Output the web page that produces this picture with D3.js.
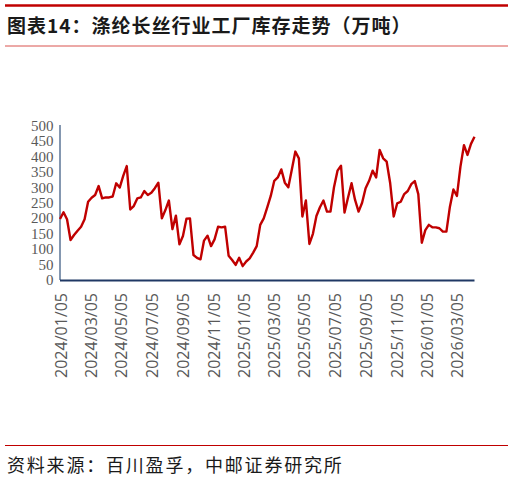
<!DOCTYPE html>
<html><head><meta charset="utf-8">
<script src="https://cdn.jsdelivr.net/npm/d3@7"></script>
<style>body{margin:0;background:#fff}svg{display:block}</style>
</head><body>
<svg id="c" width="513" height="481"></svg>
<script>
const startDate = "2024/01/05";
const endDate = "2026/04/10";
const values = [198,220,197,130,146,160,173,197,254,267,276,305,265,268,268,271,314,300,338,370,
229,240,265,268,289,276,283,298,316,200,227,258,165,209,116,143,199,200,81,72,
67,128,144,110,132,173,171,173,79,65,49,72,45,60,70,89,110,179,200,236,
273,322,333,359,316,301,359,417,395,206,258,117,150,208,236,258,222,222,301,355,
371,219,268,314,260,222,251,298,322,355,333,422,395,384,314,206,249,254,279,289,
311,321,279,121,162,179,171,171,168,157,157,238,294,273,368,438,406,442,465];
const xTickLabels = ["2024/01/05","2024/03/05","2024/05/05","2024/07/05","2024/09/05","2024/11/05","2025/01/05","2025/03/05","2025/05/05","2025/07/05","2025/09/05","2025/11/05","2026/01/05","2026/03/05"];
const yTicks = [0,50,100,150,200,250,300,350,400,450,500];
const titleText = "图表14：涤纶长丝行业工厂库存走势（万吨）";
const sourceText = "资料来源：百川盈孚，中邮证券研究所";

const parse = d3.timeParse("%Y/%m/%d");
const t0 = parse(startDate);
const dates = values.map((v,i)=>d3.timeDay.offset(t0, 7*i));
const data = values.map((v,i)=>({d:dates[i], v}));

const svg = d3.select("#c");
const L=60, R=474.5, T=126, B=280;
const x = d3.scaleTime().domain([t0, parse(endDate)]).range([L,R]);
const y = d3.scaleLinear().domain([0,500]).range([B,T]);

// header lines
svg.append("line").attr("x1",5).attr("x2",508).attr("y1",5.5).attr("y2",5.5).attr("stroke","#c00000").attr("stroke-width",2.5);
svg.append("line").attr("x1",5).attr("x2",508).attr("y1",46).attr("y2",46).attr("stroke","#d9534f").attr("stroke-width",1);
svg.append("text").attr("x",7).attr("y",33).text(titleText)
  .attr("font-family","'Noto Sans CJK SC'").attr("font-weight","bold").attr("font-size",19).attr("letter-spacing",1).attr("fill","#1a1a1a");

// footer
svg.append("line").attr("x1",5).attr("x2",508).attr("y1",445.5).attr("y2",445.5).attr("stroke","#c00000").attr("stroke-width",1.2);
svg.append("text").attr("x",7).attr("y",472).text(sourceText)
  .attr("font-family","'Noto Sans CJK SC'").attr("font-size",18).attr("letter-spacing",1.8).attr("fill","#1a1a1a");

// y axis labels
svg.append("g").selectAll("text").data(yTicks).join("text")
  .attr("x",53.5).attr("y",d=>y(d)+5).attr("text-anchor","end")
  .attr("font-family","'Liberation Serif'").attr("font-size",15).attr("fill","#595959").text(d=>d);

// y axis line
svg.append("line").attr("x1",L).attr("x2",L).attr("y1",T-1).attr("y2",B).attr("stroke","#8497b0").attr("stroke-width",2);

// x tick labels
svg.append("g").selectAll("text").data(xTickLabels).join("text")
  .attr("transform",d=>`translate(${x(parse(d))+6.5},293) rotate(-90)`)
  .attr("text-anchor","end")
  .attr("font-family","'Open Sans'").attr("font-size",16).attr("fill","#595959").text(d=>d);

// line
svg.append("path").datum(data)
  .attr("fill","none").attr("stroke","#c00000").attr("stroke-width",2.4).attr("stroke-linejoin","round")
  .attr("d", d3.line().x(d=>x(d.d)).y(d=>y(d.v)));

// x axis line
svg.append("line").attr("x1",L).attr("x2",R).attr("y1",B+0.5).attr("y2",B+0.5).attr("stroke","#1f3864").attr("stroke-width",2);
</script>
</body></html>
